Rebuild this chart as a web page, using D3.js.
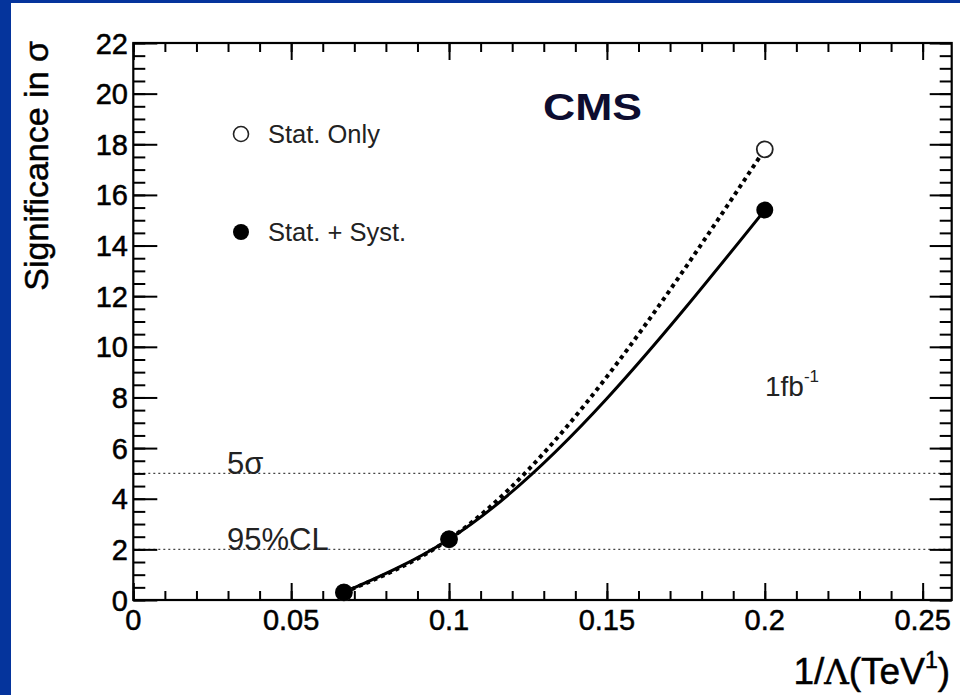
<!DOCTYPE html>
<html>
<head>
<meta charset="utf-8">
<script src="https://cdn.jsdelivr.net/npm/d3@7"></script>
<style>
  html, body { margin: 0; padding: 0; background: #05349c; }
  svg { display: block; }
  text { font-family: "Liberation Sans", Arial, Helvetica, sans-serif; fill: #000; }
  .heavy { stroke: #000; stroke-width: 0.5px; }
</style>
</head>
<body>
<svg id="chart" width="960" height="695"></svg>
<script>
// Inverse scale 1/Λ in TeV^-1
const invLambda = [0.0667, 0.1, 0.2];
// Significance, statistical uncertainty only
const statOnly = [0.3, 2.4, 17.8];
// Significance, statistical + systematic uncertainty
const statSyst = [0.3, 2.4, 15.4];
// Reference significance levels
const refLevels = [5, 2];
const refLabels = ["5σ", "95%CL"];
// Axis tick labels
const xTickValues = [0, 0.05, 0.1, 0.15, 0.2, 0.25];
const xTickLabels = ["0", "0.05", "0.1", "0.15", "0.2", "0.25"];
const yTickValues = [0, 2, 4, 6, 8, 10, 12, 14, 16, 18, 20, 22];
const legendLabels = ["Stat. Only", "Stat. + Syst."];

const svg = d3.select("#chart");

// white canvas inside the blue frame
svg.append("rect").attr("x", 11).attr("y", 3).attr("width", 949).attr("height", 692).attr("fill", "#fff");

const pL = 133.3, pR = 951.7, pT = 43, pB = 600;
const x = d3.scaleLinear().domain([0, 0.2592]).range([pL, pR]);
const y = d3.scaleLinear().domain([0, 22]).range([pB, pT]);

// reference levels (dotted horizontal lines)
svg.selectAll("line.ref").data(refLevels).enter().append("line")
  .attr("class", "ref")
  .attr("x1", pL).attr("x2", pR)
  .attr("y1", d => y(d)).attr("y2", d => y(d))
  .attr("stroke", "#444").attr("stroke-width", 1.4)
  .attr("stroke-dasharray", "2,3");

svg.selectAll("text.ref").data(refLevels).enter().append("text")
  .attr("class", "ref")
  .attr("x", 227).attr("y", d => y(d) + 1)
  .attr("font-size", 31)
  .style("fill", "#222")
  .text((d, i) => refLabels[i]);

// axes
const tickW = 2;
const xMinor = d3.range(0, 0.2592, 0.01);
const yMinor = d3.range(0, 22.01, 0.5);

function axis(gen, tx, ty, major, minor, majLen, minLen) {
  const g = svg.append("g").attr("transform", `translate(${tx},${ty})`);
  g.call(gen.tickValues(major).tickSize(majLen).tickFormat(""));
  const g2 = svg.append("g").attr("transform", `translate(${tx},${ty})`);
  g2.call(gen.tickValues(minor).tickSize(minLen).tickFormat(""));
  [g, g2].forEach(gg => {
    gg.select(".domain").remove();
    gg.selectAll(".tick line").attr("stroke", "#000").attr("stroke-width", tickW);
  });
}
// bottom and top: ticks pointing into the frame
axis(d3.axisTop(x), 0, pB, xTickValues, xMinor, 17, 9);
axis(d3.axisBottom(x), 0, pT, xTickValues, xMinor, 17, 9);
// left and right
axis(d3.axisRight(y), pL, 0, yTickValues, yMinor, 24, 12);
axis(d3.axisLeft(y), pR, 0, yTickValues, yMinor, 22, 12);

// frame
svg.append("rect")
  .attr("x", pL).attr("y", pT)
  .attr("width", pR - pL).attr("height", pB - pT)
  .attr("fill", "none").attr("stroke", "#000").attr("stroke-width", 2.2);

// tick labels
svg.selectAll("text.xt").data(xTickValues).enter().append("text")
  .attr("class", "xt heavy")
  .attr("x", d => x(d)).attr("y", 630)
  .attr("text-anchor", "middle").attr("font-size", 29)
  .text((d, i) => xTickLabels[i]);

svg.selectAll("text.yt").data(yTickValues).enter().append("text")
  .attr("class", "yt heavy")
  .attr("x", 128).attr("y", d => y(d) + 10.5)
  .attr("text-anchor", "end").attr("font-size", 29)
  .text(d => d);

// axis titles
svg.append("text")
  .attr("class", "heavy")
  .attr("transform", "translate(48,41) rotate(-90)")
  .attr("text-anchor", "end").attr("font-size", 34)
  .text("Significance in σ");

const xt = svg.append("text")
  .attr("class", "heavy")
  .attr("x", 950).attr("y", 684)
  .attr("text-anchor", "end").attr("font-size", 37);
xt.append("tspan").text("1/");
xt.append("tspan").style("font-family", "'DejaVu Serif', serif").attr("font-size", 34).text("Λ");
xt.append("tspan").text("(TeV");
xt.append("tspan").attr("font-size", 23).attr("dy", -16).text("1");
xt.append("tspan").attr("dy", 16).text(")");

// curves
const line = d3.line().x(d => x(d[0])).y(d => y(d[1])).curve(d3.curveMonotoneX);
const ptsOnly = invLambda.map((v, i) => [v, statOnly[i]]);
const ptsSyst = invLambda.map((v, i) => [v, statSyst[i]]);

svg.append("path").attr("d", line(ptsOnly))
  .attr("fill", "none").attr("stroke", "#000").attr("stroke-width", 4)
  .attr("stroke-dasharray", "4,4");
svg.append("path").attr("d", line(ptsSyst))
  .attr("fill", "none").attr("stroke", "#000").attr("stroke-width", 3);

// markers
svg.selectAll("circle.only").data(ptsOnly).enter().append("circle")
  .attr("class", "only")
  .attr("cx", d => x(d[0])).attr("cy", d => y(d[1])).attr("r", 8)
  .attr("fill", "#fff").attr("stroke", "#222").attr("stroke-width", 1.8);
svg.selectAll("circle.syst").data(ptsSyst).enter().append("circle")
  .attr("class", "syst")
  .attr("cx", d => x(d[0])).attr("cy", d => y(d[1])).attr("r", 8.5)
  .attr("fill", "#000");

// legend
const legY = [134, 232];
svg.append("circle").attr("cx", 241).attr("cy", legY[0]).attr("r", 7.5)
  .attr("fill", "#fff").attr("stroke", "#222").attr("stroke-width", 1.6);
svg.append("circle").attr("cx", 241).attr("cy", legY[1]).attr("r", 8)
  .attr("fill", "#000");
svg.selectAll("text.leg").data(legendLabels).enter().append("text")
  .attr("class", "leg")
  .attr("x", 268).attr("y", (d, i) => legY[i] + 9)
  .attr("font-size", 25.5).style("fill", "#222")
  .text(d => d);

// experiment label
svg.append("text")
  .attr("x", 543).attr("y", 120)
  .attr("font-size", 36).attr("font-weight", "bold")
  .attr("textLength", 99).attr("lengthAdjust", "spacingAndGlyphs")
  .style("fill", "#0d0d30")
  .text("CMS");

// integrated luminosity
const lumi = svg.append("text").attr("x", 765).attr("y", 396).attr("font-size", 28).style("fill", "#222");
lumi.append("tspan").text("1fb");
lumi.append("tspan").attr("font-size", 17).attr("dy", -14).text("-1");
</script>
</body>
</html>
